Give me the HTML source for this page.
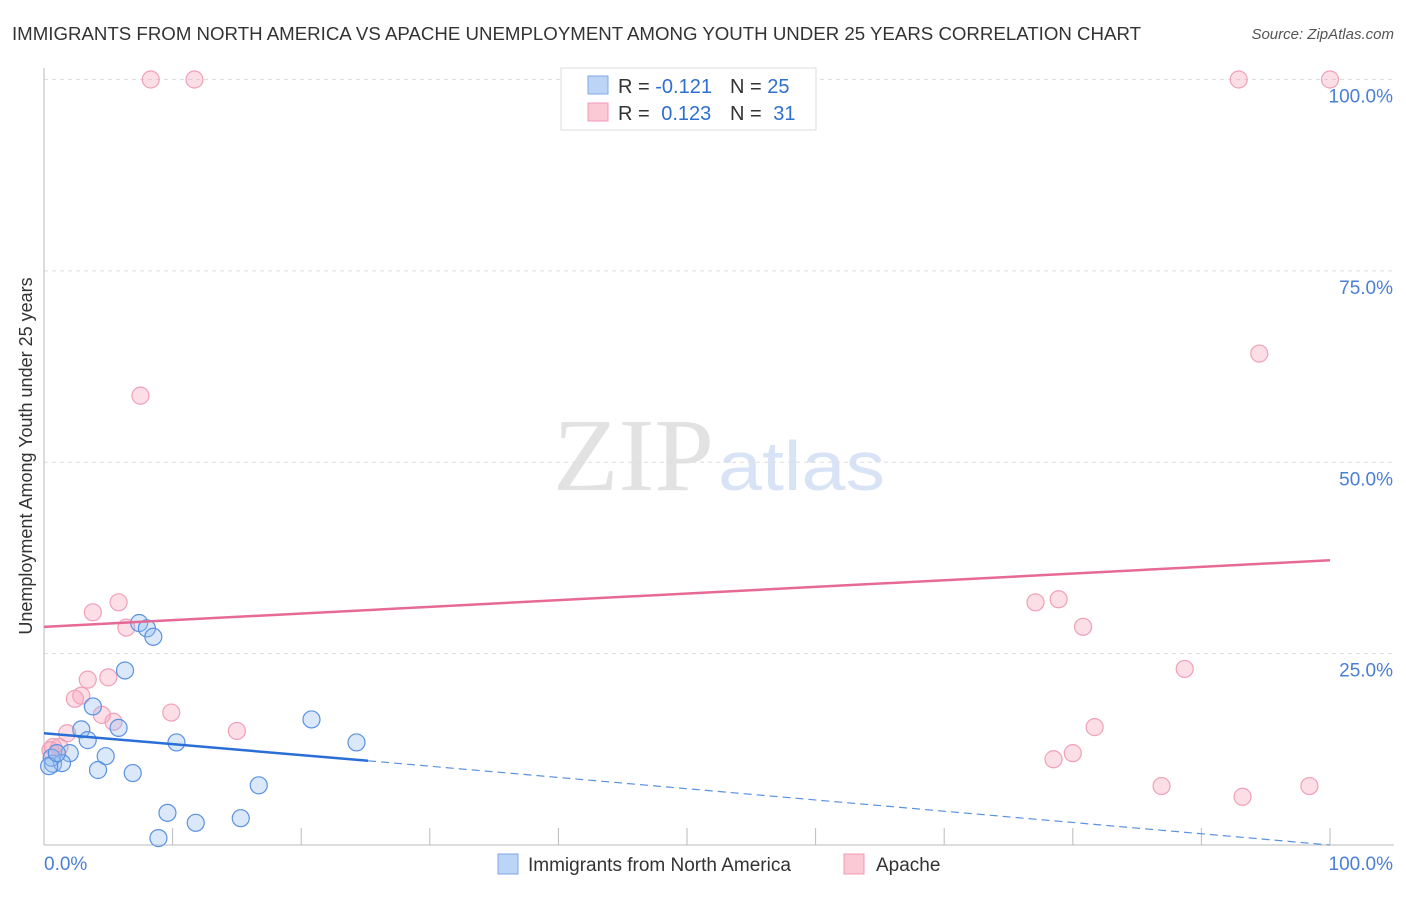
<!DOCTYPE html>
<html><head><meta charset="utf-8"><style>
body{margin:0;background:#fff;font-family:"Liberation Sans",sans-serif}
</style></head><body>
<svg id="c" width="1406" height="892" xmlns="http://www.w3.org/2000/svg" style="font-family:'Liberation Sans',sans-serif">
<text x="12" y="40" font-size="18" fill="#333" textLength="1129" lengthAdjust="spacingAndGlyphs">IMMIGRANTS FROM NORTH AMERICA VS APACHE UNEMPLOYMENT AMONG YOUTH UNDER 25 YEARS CORRELATION CHART</text>
<text x="1394" y="39" font-size="15" fill="#555" font-style="italic" text-anchor="end">Source: ZipAtlas.com</text>
<text x="32" y="456" font-size="18" fill="#333" text-anchor="middle" transform="rotate(-90 32 456)">Unemployment Among Youth under 25 years</text>
<text x="553" y="490" font-size="104" fill="#e2e2e2" style="font-family:'Liberation Serif',serif" textLength="161" lengthAdjust="spacingAndGlyphs">ZIP</text>
<text x="718" y="490" font-size="70" fill="#d8e4f6" textLength="167" lengthAdjust="spacingAndGlyphs">atlas</text>
<g id="grid"></g><g id="pts"></g><g id="lines"></g>
<g>
<rect x="561" y="68" width="255" height="62" fill="#fff" stroke="#ddd"/>
<rect x="588" y="76" width="20" height="18" fill="#bcd4f6" stroke="#7ea8e8"/>
<rect x="588" y="103" width="20" height="18" fill="#fbc8d6" stroke="#f09ab4"/>
<text x="618" y="93" font-size="20" fill="#333">R = <tspan fill="#2f6fd0">-0.121</tspan></text>
<text x="730" y="93" font-size="20" fill="#333">N = <tspan fill="#2f6fd0">25</tspan></text>
<text x="618" y="120" font-size="20" fill="#333">R = <tspan fill="#2f6fd0" dx="6">0.123</tspan></text>
<text x="730" y="120" font-size="20" fill="#333">N = <tspan fill="#2f6fd0" dx="6">31</tspan></text>
</g>
<g>
<rect x="498" y="854" width="20" height="20" fill="#bcd4f6" stroke="#7ea8e8"/>
<text x="528" y="871" font-size="19" fill="#333">Immigrants from North America</text>
<rect x="844" y="854" width="20" height="20" fill="#fbc8d6" stroke="#f09ab4"/>
<text x="876" y="871" font-size="19" fill="#333">Apache</text>
</g>
</svg>
<script>
const yTicks=[25,50,75,100];
const yTickLabels=["25.0%","50.0%","75.0%","100.0%"];
const xTicks=[0,10,20,30,40,50,60,70,80,90,100];
const blueX=[7.4,8.0,8.5,6.3,3.8,5.8,2.9,3.4,2.0,10.3,20.8,24.3,4.8,4.2,6.9,16.7,9.6,11.8,15.3,8.9,0.7,1.4,0.6,0.4,1.0];
const blueY=[29.0,28.3,27.2,22.8,18.1,15.3,15.1,13.7,12.0,13.4,16.4,13.4,11.6,9.8,9.4,7.8,4.2,2.9,3.5,0.9,10.6,10.7,11.4,10.3,12.0];
const pinkX=[3.8,5.8,6.4,3.4,5.0,2.4,2.9,4.5,5.4,9.9,15.0,1.8,0.7,0.5,1.2,7.5,8.3,11.7,92.9,100,94.5,77.1,78.9,80.8,88.7,81.7,78.5,80.0,86.9,93.2,98.4];
const pinkY=[30.4,31.7,28.4,21.6,21.9,19.1,19.5,17.0,16.1,17.3,14.9,14.6,12.8,12.4,12.8,58.7,100,100,100,100,64.2,31.7,32.1,28.5,23.0,15.4,11.2,12.0,7.7,6.3,7.7];
const pinkTrend=[0,28.5,100,37.2];
const blueTrend=[0,14.6,25.2,11.0,100,0];
const X=v=>44+v*12.86, Y=v=>845-v*7.655;
const NS="http://www.w3.org/2000/svg";
function mk(t,a,p){const e=document.createElementNS(NS,t);for(const k in a)e.setAttribute(k,a[k]);p.appendChild(e);return e;}
const g=document.getElementById('grid');
yTicks.forEach((t,i)=>{
 const l=mk('line',{x1:44,x2:1394,y1:Y(t),y2:Y(t),stroke:'#ddd','stroke-dasharray':'4,4'},g);
 
 
 const tx=mk('text',{x:1393,y:Y(t)+23,'font-size':19,fill:'#4a7fd6','text-anchor':'end'},g);
 tx.textContent=yTickLabels[i];
 
 
});
const ax=mk('line',{x1:44,x2:44,y1:68,y2:845,stroke:'#bbb'},g);


const bx=mk('line',{x1:44,x2:1394,y1:845,y2:845,stroke:'#bbb'},g);


xTicks.forEach(t=>{const l=mk('line',{x1:X(t),x2:X(t),y1:828,y2:845,stroke:'#bbb'},g);
 
 });
[["0.0%",44,'start'],["100.0%",1393,'end']].forEach(a=>{const t=mk('text',{x:a[1],y:870,'font-size':19,fill:'#4a7fd6','text-anchor':a[2]},g);t.textContent=a[0];
 
 });
const p=document.getElementById('pts');
pinkX.forEach((x,i)=>{const c=mk('circle',{cx:X(x),cy:Y(pinkY[i]),r:8.5,fill:'rgba(246,160,186,0.35)',stroke:'#f0a0b8','stroke-width':1.2},p);
 
 });
blueX.forEach((x,i)=>{const c=mk('circle',{cx:X(x),cy:Y(blueY[i]),r:8.5,fill:'rgba(150,190,240,0.35)',stroke:'#5b92e0','stroke-width':1.2},p);
 
 });
const L=document.getElementById('lines');
const pl=mk('line',{x1:X(pinkTrend[0]),y1:Y(pinkTrend[1]),x2:X(pinkTrend[2]),y2:Y(pinkTrend[3]),stroke:'#e66a94','stroke-width':2.5},L);


const bl=mk('line',{x1:X(blueTrend[0]),y1:Y(blueTrend[1]),x2:X(blueTrend[2]),y2:Y(blueTrend[3]),stroke:'#2a6fd6','stroke-width':2.5},L);


const bd=mk('line',{x1:X(blueTrend[2]),y1:Y(blueTrend[3]),x2:X(blueTrend[4]),y2:Y(blueTrend[5]),stroke:'#5b92e0','stroke-width':1.2,'stroke-dasharray':'8,5'},L);


</script>
</body></html>
